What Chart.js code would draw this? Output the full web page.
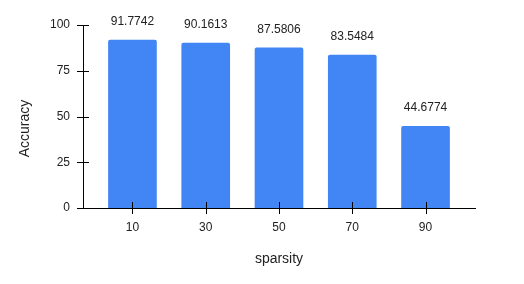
<!DOCTYPE html>
<html>
<head>
<meta charset="utf-8">
<script src="https://cdn.jsdelivr.net/npm/chart.js@4.4.0/dist/chart.umd.min.js"></script>
<style>
    html, body { margin: 0; padding: 0; background: #fff; }
    #wrap { width: 524px; height: 284px; position: relative; }
</style>
</head>
<body>
<div id="wrap"><canvas id="accChart"></canvas></div>
<script>
// Chart data
const sparsity = [10, 30, 50, 70, 90];
const accuracy = [91.7742, 90.1613, 87.5806, 83.5484, 44.6774];
const accuracyLabels = ['91.7742', '90.1613', '87.5806', '83.5484', '44.6774'];
const yTicks = [0, 25, 50, 75, 100];
const xTitle = 'sparsity';
const yTitle = 'Accuracy';

const textColor = '#222';
const barColor = '#4285F4';

// value labels above bars
const valueLabels = {
    id: 'valueLabels',
    afterDatasetsDraw(chart) {
        const ctx = chart.ctx;
        const meta = chart.getDatasetMeta(0);
        ctx.save();
        ctx.font = '12px Arial, "Liberation Sans", sans-serif';
        ctx.fillStyle = textColor;
        ctx.textAlign = 'center';
        ctx.textBaseline = 'alphabetic';
        meta.data.forEach((bar, i) => {
            ctx.fillText(accuracyLabels[i], bar.x, bar.y - 15);
        });
        ctx.restore();
    }
};

// tick marks crossing the axes + y axis title
const axisMarks = {
    id: 'axisMarks',
    afterDraw(chart) {
        const ctx = chart.ctx;
        const x = chart.scales.x;
        const y = chart.scales.y;
        const area = chart.chartArea;
        ctx.save();
        ctx.strokeStyle = '#000';
        ctx.lineWidth = 1;
        ctx.beginPath();
        yTicks.forEach(v => {
            const py = Math.round(y.getPixelForValue(v)) + 0.5;
            ctx.moveTo(area.left - 6, py);
            ctx.lineTo(area.left + 6, py);
        });
        sparsity.forEach(v => {
            const px = Math.round(x.getPixelForValue(v)) + 0.5;
            ctx.moveTo(px, area.bottom - 6);
            ctx.lineTo(px, area.bottom + 6);
        });
        ctx.stroke();

        ctx.font = '14px Arial, "Liberation Sans", sans-serif';
        ctx.fillStyle = textColor;
        ctx.textAlign = 'center';
        ctx.textBaseline = 'middle';
        ctx.translate(25, (area.top + area.bottom) / 2 + 12);
        ctx.rotate(-Math.PI / 2);
        ctx.fillText(yTitle, 0, 0);
        ctx.restore();
    }
};

new Chart(document.getElementById('accChart'), {
    type: 'bar',
    data: {
        datasets: [{
            data: sparsity.map((s, i) => ({ x: s, y: accuracy[i] })),
            backgroundColor: barColor,
            borderRadius: 2,
            barThickness: 48
        }]
    },
    options: {
        responsive: true,
        maintainAspectRatio: false,
        animation: false,
        layout: { padding: { left: 0, top: 25, right: 49, bottom: 0 } },
        plugins: {
            legend: { display: false },
            tooltip: { enabled: false }
        },
        scales: {
            x: {
                type: 'linear',
                offset: false,
                min: -3.5,
                max: 103.5,
                afterBuildTicks: (scale) => {
                    scale.ticks = sparsity.map(v => ({ value: v }));
                },
                afterFit: (scale) => { scale.height = 76; },
                grid: { display: false, drawTicks: false, offset: false },
                border: { display: true, color: '#000', width: 1 },
                ticks: {
                    color: textColor,
                    font: { family: 'Arial, "Liberation Sans", sans-serif', size: 12 },
                    padding: 12,
                    maxRotation: 0,
                    autoSkip: false
                },
                title: {
                    display: true,
                    text: xTitle,
                    color: textColor,
                    font: { family: 'Arial, "Liberation Sans", sans-serif', size: 14 },
                    padding: { top: 0, bottom: 16 }
                }
            },
            y: {
                min: 0,
                max: 100,
                afterBuildTicks: (scale) => {
                    scale.ticks = yTicks.map(v => ({ value: v }));
                },
                afterFit: (scale) => { scale.width = 83; },
                grid: { display: false, drawTicks: false },
                border: { display: true, color: '#000', width: 1 },
                ticks: {
                    color: textColor,
                    font: { family: 'Arial, "Liberation Sans", sans-serif', size: 12 },
                    padding: 13
                }
            }
        }
    },
    plugins: [valueLabels, axisMarks]
});
</script>
</body>
</html>
